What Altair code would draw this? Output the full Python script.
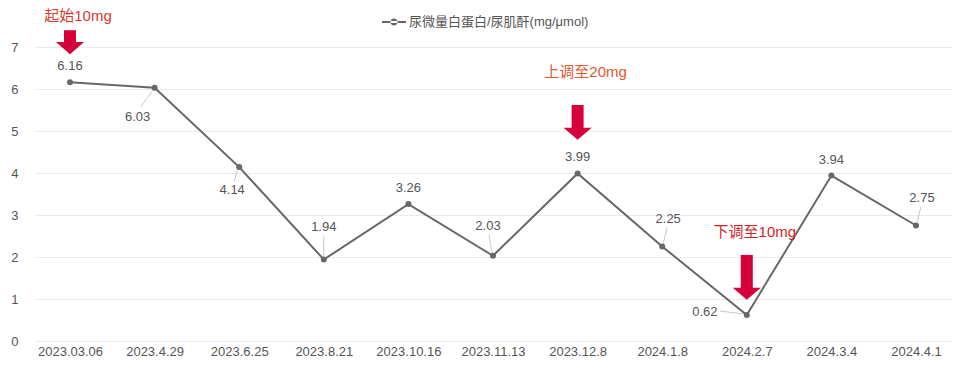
import altair as alt
import pandas as pd

# ---------------- data ----------------
dates = ["2023.03.06", "2023.4.29", "2023.6.25", "2023.8.21", "2023.10.16",
         "2023.11.13", "2023.12.8", "2024.1.8", "2024.2.7", "2024.3.4", "2024.4.1"]
values = [6.16, 6.03, 4.14, 1.94, 3.26, 2.03, 3.99, 2.25, 0.62, 3.94, 2.75]
label_place = ["above", "below_left", "below", "above_leader", "above", "above_left",
               "above", "above_right", "left", "above", "above_right"]
series_name = "尿微量白蛋白/尿肌酐(mg/μmol)"

note_dates = ["2023.03.06", "2023.12.8", "2024.2.7"]
note_texts = ["起始10mg", "上调至20mg", "下调至10mg"]
note_text_y = [7.74, 6.40, 2.60]
note_arrow_top = [7.40, 5.62, 2.05]
note_arrow_tip = [6.83, 4.79, 0.98]

# ---------------- style ----------------
LINE = "#676767"
ARROW = "#d6003a"
NOTE_COLORS = ["#d93a2b", "#e4572e", "#d41f26"]
FONT = "Liberation Sans, Noto Sans CJK SC"
LABEL_COLOR = "#555555"

# label placement styles: text offset and leader line (x1, y1, x2, y2) in px
PLACE = {
    "above": {"dx": 0, "dy": -16, "leader": None},
    "above_leader": {"dx": 0, "dy": -33, "leader": (0, -3, 0, -24)},
    "above_left": {"dx": -5, "dy": -30, "leader": (-1, -3, -4, -21)},
    "above_right": {"dx": 6, "dy": -28, "leader": (1, -3, 5, -19)},
    "below_left": {"dx": -17, "dy": 29, "leader": (-2, 3, -14, 19)},
    "below": {"dx": -7, "dy": 23, "leader": (-2, 3, -5, 15)},
    "left": {"dx": -42, "dy": -3, "leader": (-3, -1, -27, -4)},
}

HEAD_PATH = "M-1,-0.43L1,-0.43L0,0.43Z"
LEG_PATH = ("M-1,-0.08L1,-0.08L1,0.08L-1,0.08Z "
            "M-0.3,0A0.3,0.3,0,1,0,0.3,0A0.3,0.3,0,1,0,-0.3,0Z")

df = pd.DataFrame({"date": dates, "value": values, "place": label_place,
                   "series": [series_name] * len(dates)})
notes = pd.DataFrame({"date": note_dates, "text": note_texts, "ty": note_text_y,
                      "top": note_arrow_top, "tip": note_arrow_tip})

X = alt.X("date:N", sort=dates, scale=alt.Scale(type="point", padding=0.4255),
          axis=alt.Axis(title=None, labelAngle=0, ticks=False, domain=False, grid=False,
                        labelPadding=4, labelColor=LABEL_COLOR, labelFontSize=13,
                        labelFont=FONT))


def Y(field):
    return alt.Y(f"{field}:Q", scale=alt.Scale(domain=[0, 7], nice=False),
                 axis=alt.Axis(title=None, values=list(range(8)), ticks=False, domain=False,
                               grid=True, gridColor="#ebebeb", labelPadding=16,
                               labelColor=LABEL_COLOR, labelFontSize=13, labelFont=FONT))


base = alt.Chart(df)

layers = []
# leader lines
for name, p in PLACE.items():
    if p["leader"] is None:
        continue
    x1, y1, x2, y2 = p["leader"]
    layers.append(
        base.transform_filter(alt.datum.place == name)
        .mark_rule(color="#c8c8c8", strokeWidth=1,
                   xOffset=x1, yOffset=y1, x2Offset=x2, y2Offset=y2)
        .encode(x=X, y=Y("value"), x2="date:N", y2="value:Q")
    )

line = base.mark_line(color=LINE, strokeWidth=2).encode(x=X, y=Y("value"))
points = base.mark_point(filled=True, size=36, opacity=1).encode(
    x=X, y=Y("value"),
    color=alt.Color("series:N", scale=alt.Scale(range=[LINE]),
                    legend=alt.Legend(title=None, orient="none", legendX=348, legendY=-37,
                                      symbolType=LEG_PATH, symbolSize=576,
                                      symbolStrokeWidth=0, symbolOpacity=1,
                                      labelFont=FONT, labelFontSize=13, labelLimit=0,
                                      labelColor=LABEL_COLOR, labelOffset=3)),
)
layers += [line, points]

for name, p in PLACE.items():
    layers.append(
        base.transform_filter(alt.datum.place == name)
        .mark_text(font=FONT, fontSize=13, color=LABEL_COLOR, dx=p["dx"], dy=p["dy"])
        .encode(x=X, y=Y("value"), text=alt.Text("value:Q", format=".2f"))
    )

nbase = alt.Chart(notes)
shaft = nbase.mark_rule(color=ARROW, strokeWidth=12, strokeCap="butt", y2Offset=-10).encode(
    x=X, y=Y("top"), y2="tip:Q")
head = nbase.mark_point(shape=HEAD_PATH, filled=True, color=ARROW, size=784, opacity=1,
                        yOffset=-6).encode(x=X, y=Y("tip"))
note_text = nbase.mark_text(font=FONT, fontSize=15, dx=8).encode(
    x=X, y=Y("ty"), text="text:N",
    color=alt.Color("text:N", scale=alt.Scale(domain=note_texts, range=NOTE_COLORS),
                    legend=None))
layers += [shaft, head, note_text]

chart = (
    alt.layer(*layers)
    .resolve_scale(color="independent")
    .properties(width=918, height=294,
                padding={"left": 26, "top": 39, "right": 0, "bottom": 17},
                autosize=alt.AutoSizeParams(type="none"))
    .configure_view(stroke=None)
)

chart.save("out.html", embed_options={"renderer": "svg", "actions": False})
